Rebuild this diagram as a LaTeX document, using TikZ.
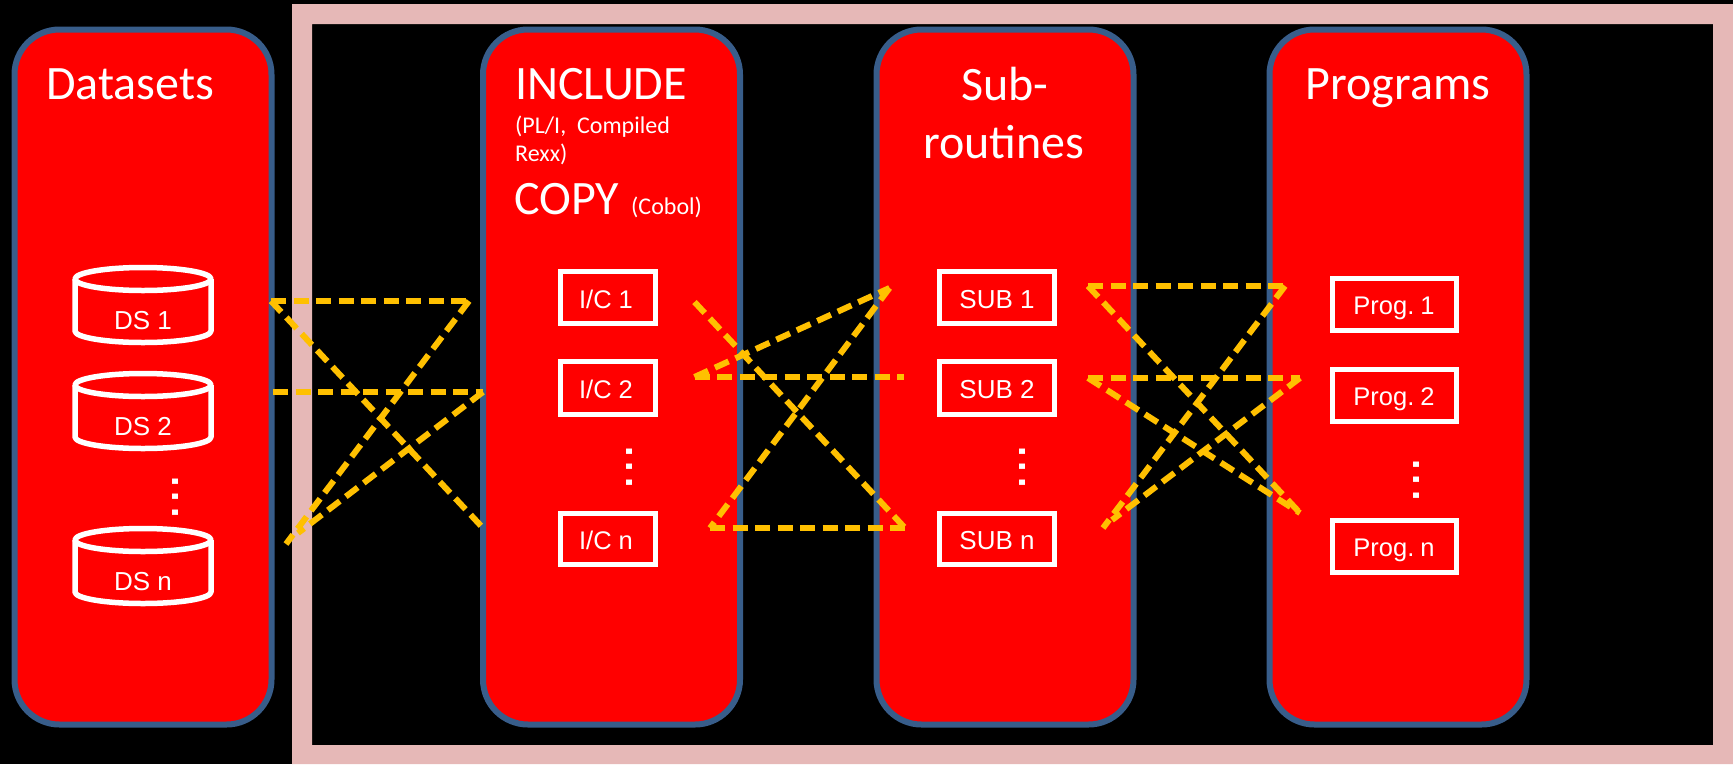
\documentclass[tikz,border=0pt]{standalone}
\usepackage{fontspec}
\setmainfont{Liberation Sans}
\newfontfamily\titlefont{Carlito}
\definecolor{pinkframe}{HTML}{E6B8B7}
\definecolor{panelblue}{HTML}{385D8A}
\definecolor{linkorange}{HTML}{FFC000}
\definecolor{panelred}{HTML}{FF0000}
\tikzset{
  panel/.style={draw=panelblue,fill=panelred,line width=6pt,rounded corners=45pt,minimum width=257pt,minimum height=695pt,inner sep=0pt,outer sep=0pt,anchor=north west},
  itembox/.style={draw=white,line width=5.5pt,inner sep=0pt,outer sep=0pt,anchor=north west},
  itemlabel/.style={text=white,inner sep=0pt,anchor=base,font=\fontsize{26}{30}\selectfont},
  proglabel/.style={text=white,inner sep=0pt,anchor=base,font=\fontsize{25.5}{30}\selectfont},
  bigtitle/.style={text=white,inner sep=0pt,font=\titlefont\fontsize{48}{56}\selectfont},
  smalltitle/.style={text=white,inner sep=0pt,anchor=base west,font=\titlefont\fontsize{24}{29}\selectfont},
  vdots/.style={text=white,inner sep=0pt,rotate=90,font=\fontsize{56}{56}\selectfont},
  cylline/.style={draw=white,line width=5.5pt,line join=round},
  link/.style={draw=linkorange,line width=6pt,dash pattern=on 15pt off 7.5pt},
}
\newcommand{\dbcyl}[4]{% name, top y, label, x-centre is 143
  \draw[cylline] (143,#2+11.5) ellipse [x radius=68,y radius=11.5];
  \draw[cylline] (75,#2+11.5) -- (75,#2+63.5) arc[start angle=180,end angle=0,x radius=68,y radius=11.5] -- (211,#2+11.5);
  \node[itemlabel] (#1) at (143,#2+61.5) {#3};
}
\begin{document}
\begin{tikzpicture}[x=1pt,y=-1pt]
\useasboundingbox (0,0) rectangle (1733,764);
\fill[black] (0,0) rectangle (1733,764);
\fill[pinkframe,even odd rule] (292,4) rectangle (1733,764) (312,24) rectangle (1713,745);

\node[panel] (pds) at (14.5,29.5) {};
\node[panel] (pinc) at (483,29.5) {};
\node[panel] (psub) at (876.5,29.5) {};
\node[panel] (pprog) at (1269.5,29.5) {};

\node[bigtitle,anchor=base] (tds) at (130,99) {Datasets};
\node[bigtitle,anchor=base west] (tinc) at (515,99) {INCLUDE};
\node[smalltitle] (tpl) at (515,133) {(PL/I,\ \ Compiled};
\node[smalltitle] (trexx) at (515,161) {Rexx)};
\node[bigtitle,anchor=base west] (tcopy) at (514,214) {COPY};
\node[smalltitle] (tcob) at (631,214) {(Cobol)};
\node[bigtitle,anchor=base] (tsub1) at (1005,100) {Sub-};
\node[bigtitle,anchor=base] (tsub2) at (1004,158) {routines};
\node[bigtitle,anchor=base] (tprog) at (1398,99) {Programs};

\dbcyl{ds1}{267.5}{DS 1}{}
\dbcyl{ds2}{373.5}{DS 2}{}
\dbcyl{dsn}{528.5}{DS n}{}
\node[vdots] (dotsds) at (176,497) {...};

\node[itembox,minimum width=95pt,minimum height=52pt] (ic1) at (560.5,271.5) {};
\node[itembox,minimum width=95pt,minimum height=53pt] (ic2) at (560.5,361.5) {};
\node[itembox,minimum width=95pt,minimum height=51pt] (icn) at (560.5,513.5) {};
\node[proglabel] at (606,308) {I/C 1};
\node[proglabel] at (606,398) {I/C 2};
\node[proglabel] at (606,549) {I/C n};
\node[vdots] (dotsic) at (629,467) {...};

\node[itembox,minimum width=115pt,minimum height=52pt] (sub1) at (939.5,271.5) {};
\node[itembox,minimum width=115pt,minimum height=53pt] (sub2) at (939.5,361.5) {};
\node[itembox,minimum width=115pt,minimum height=51pt] (subn) at (939.5,513.5) {};
\node[itemlabel] at (997,308) {SUB 1};
\node[itemlabel] at (997,398) {SUB 2};
\node[itemlabel] at (997,549) {SUB n};
\node[vdots] (dotssub) at (1022,467) {...};

\node[itembox,minimum width=124pt,minimum height=52pt] (pg1) at (1332.5,278.5) {};
\node[itembox,minimum width=124pt,minimum height=52pt] (pg2) at (1332.5,369.5) {};
\node[itembox,minimum width=124pt,minimum height=52pt] (pgn) at (1332.5,520.5) {};
\node[proglabel] at (1394,314) {Prog.\kern-1pt\ 1};
\node[proglabel] at (1394,405) {Prog.\kern-1pt\ 2};
\node[proglabel] at (1394,556) {Prog.\kern-1pt\ n};
\node[vdots] (dotspg) at (1416,480) {...};

% free ends of the connectors
\coordinate (a1) at (271,301);
\coordinate (a2) at (469,301);
\coordinate (a3) at (273,392);
\coordinate (a4) at (483,392);
\coordinate (a5) at (483,528);
\coordinate (a6) at (286,544);
\coordinate (a7) at (298,533);
\coordinate (b1) at (694.5,302);
\coordinate (b2) at (694.5,377);
\coordinate (b3) at (905,528);
\coordinate (b4) at (889.5,288);
\coordinate (b5) at (904,377);
\coordinate (b6) at (710,528);
\coordinate (c1) at (1088,286);
\coordinate (c2) at (1285,286);
\coordinate (c3) at (1300,513);
\coordinate (c4) at (1103,528);
\coordinate (c5) at (1088,378);
\coordinate (c6) at (1300,378);
\coordinate (c7) at (1112,520);

\draw[link] (a1) -- (a2);
\draw[link] (a1) -- (a5);
\draw[link] (a2) -- (a6);
\draw[link] (a3) -- (a4);
\draw[link] (a4) -- (a7);
\draw[link] (b1) -- (b3);
\draw[link] (b2) -- (b4);
\draw[link] (b2) -- (b5);
\draw[link] (b4) -- (b6);
\draw[link] (b6) -- (b3);
\draw[link] (c1) -- (c2);
\draw[link] (c1) -- (c3);
\draw[link] (c2) -- (c4);
\draw[link] (c5) -- (c6);
\draw[link] (c5) -- (c3);
\draw[link] (c6) -- (c7);
\end{tikzpicture}
\end{document}
